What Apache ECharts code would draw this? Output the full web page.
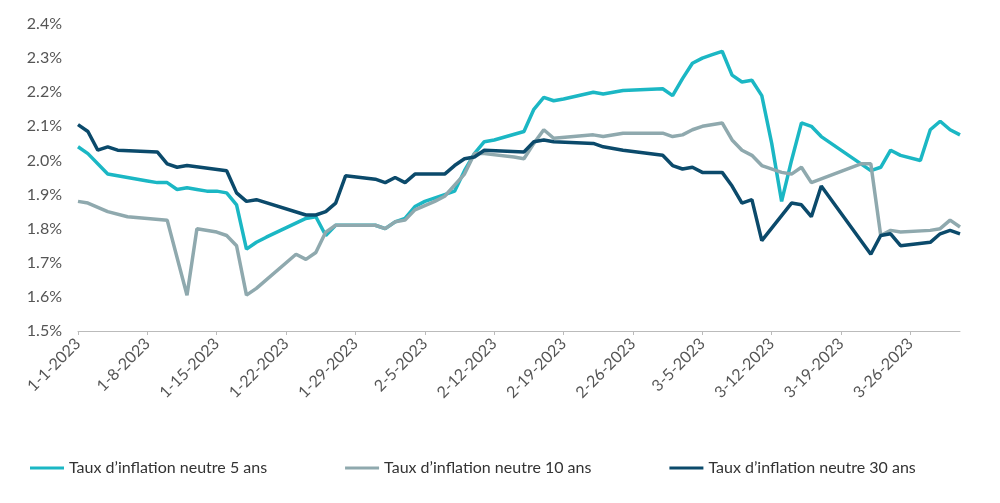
<!DOCTYPE html>
<html><head><meta charset="utf-8">
<script src="https://cdn.jsdelivr.net/npm/echarts@6/dist/echarts.min.js"></script>
<style>html,body{margin:0;background:#fff}#c{width:1000px;height:503px}</style>
</head><body><div id="c"></div>
<script>
// day offsets from 1-1-2023 and values (%)
var days5 = [0,1,3,4,5,6,7,8,9,10,11,12,13,14,15,16,17,18,19,23,24,25,26,30,31,32,33,34,35,37,38,39,40,41,42,45,46,47,48,49,52,53,54,55,59,60,61,62,63,64,65,66,67,68,69,70,71,72,73,74,75,80,81,82,83,85,86,87,88,89];
var vals5 = [2.04,2.02,1.96,1.955,1.95,1.945,1.94,1.935,1.935,1.915,1.92,1.915,1.91,1.91,1.905,1.87,1.74,1.76,1.775,1.83,1.835,1.78,1.81,1.81,1.80,1.82,1.83,1.865,1.88,1.90,1.91,1.97,2.02,2.055,2.06,2.085,2.15,2.185,2.175,2.18,2.2,2.195,2.2,2.205,2.21,2.19,2.24,2.285,2.30,2.31,2.32,2.25,2.23,2.235,2.19,2.05,1.88,2.0,2.11,2.10,2.07,1.97,1.98,2.03,2.015,2.0,2.09,2.115,2.09,2.075];
var days10 = [0,1,3,5,7,9,11,12,14,15,16,17,18,22,23,24,25,26,30,31,32,33,34,36,37,39,40,41,44,45,46,47,48,52,53,55,59,60,61,62,63,65,66,67,68,69,71,72,73,74,79,80,81,82,83,86,87,88,89];
var vals10 = [1.88,1.875,1.85,1.835,1.83,1.825,1.605,1.80,1.79,1.78,1.75,1.605,1.625,1.725,1.71,1.73,1.79,1.81,1.81,1.80,1.82,1.825,1.855,1.88,1.895,1.96,2.02,2.02,2.01,2.005,2.05,2.09,2.065,2.075,2.07,2.08,2.08,2.07,2.075,2.09,2.10,2.11,2.06,2.03,2.015,1.985,1.965,1.96,1.98,1.935,1.99,1.99,1.78,1.795,1.79,1.795,1.80,1.825,1.805];
var days30 = [0,1,2,3,4,8,9,10,11,15,16,17,18,23,24,25,26,27,30,31,32,33,34,37,38,39,40,41,45,46,47,48,52,53,55,59,60,61,62,63,65,66,67,68,69,72,73,74,75,80,81,82,83,86,87,88,89];
var vals30 = [2.105,2.085,2.03,2.04,2.03,2.025,1.99,1.98,1.985,1.97,1.905,1.88,1.885,1.84,1.84,1.85,1.875,1.955,1.945,1.935,1.95,1.935,1.96,1.96,1.985,2.005,2.01,2.03,2.025,2.055,2.06,2.055,2.05,2.04,2.03,2.015,1.985,1.975,1.98,1.965,1.965,1.925,1.875,1.885,1.765,1.875,1.87,1.835,1.925,1.725,1.78,1.785,1.75,1.76,1.785,1.795,1.785];
var names = ['Taux d\u2019inflation neutre 5 ans','Taux d\u2019inflation neutre 10 ans','Taux d\u2019inflation neutre 30 ans'];
var colors = ['#1bb7c4','#8fa9ae','#0b4a6b'];

var nDays = 90;
var cats = [];
for (var i = 0; i < nDays; i++) {
  var d = new Date(2023, 0, 1 + i);
  cats.push((d.getMonth() + 1) + '-' + d.getDate() + '-' + d.getFullYear());
}
function fill(days, vals) {
  var a = new Array(nDays).fill(null);
  days.forEach(function (d, k) { a[d] = vals[k]; });
  return a;
}
var series = [[days5, vals5], [days10, vals10], [days30, vals30]].map(function (s, k) {
  return { name: names[k], type: 'line', data: fill(s[0], s[1]), connectNulls: true,
    showSymbol: false, lineStyle: { width: 3.5, color: colors[k] }, itemStyle: { color: colors[k] } };
});

var myChart = echarts.init(document.getElementById('c'));
myChart.setOption({
  animation: false,
  grid: { left: 78, right: 40, top: 24, bottom: 172 },
  legend: { left: 25, bottom: 22, itemWidth: 34, itemHeight: 3, itemGap: 78, icon: 'rect',
    textStyle: { fontFamily: 'Lato', fontSize: 16, color: '#333' } },
  xAxis: { type: 'category', data: cats, boundaryGap: false,
    axisLine: { lineStyle: { color: '#bbb' } },
    axisTick: { show: true, interval: 6, length: 4, lineStyle: { color: '#bbb' } },
    axisLabel: { interval: 6, rotate: 45, fontFamily: 'Lato', fontSize: 16, color: '#555', margin: 10 } },
  yAxis: { type: 'value', min: 1.5, max: 2.4, interval: 0.1,
    splitLine: { show: false }, axisLine: { show: false }, axisTick: { show: false },
    axisLabel: { formatter: function (v) { return v.toFixed(1) + '%'; },
      fontFamily: 'Lato', fontSize: 16, color: '#555', margin: 16 } },
  series: series
});
</script></body></html>
